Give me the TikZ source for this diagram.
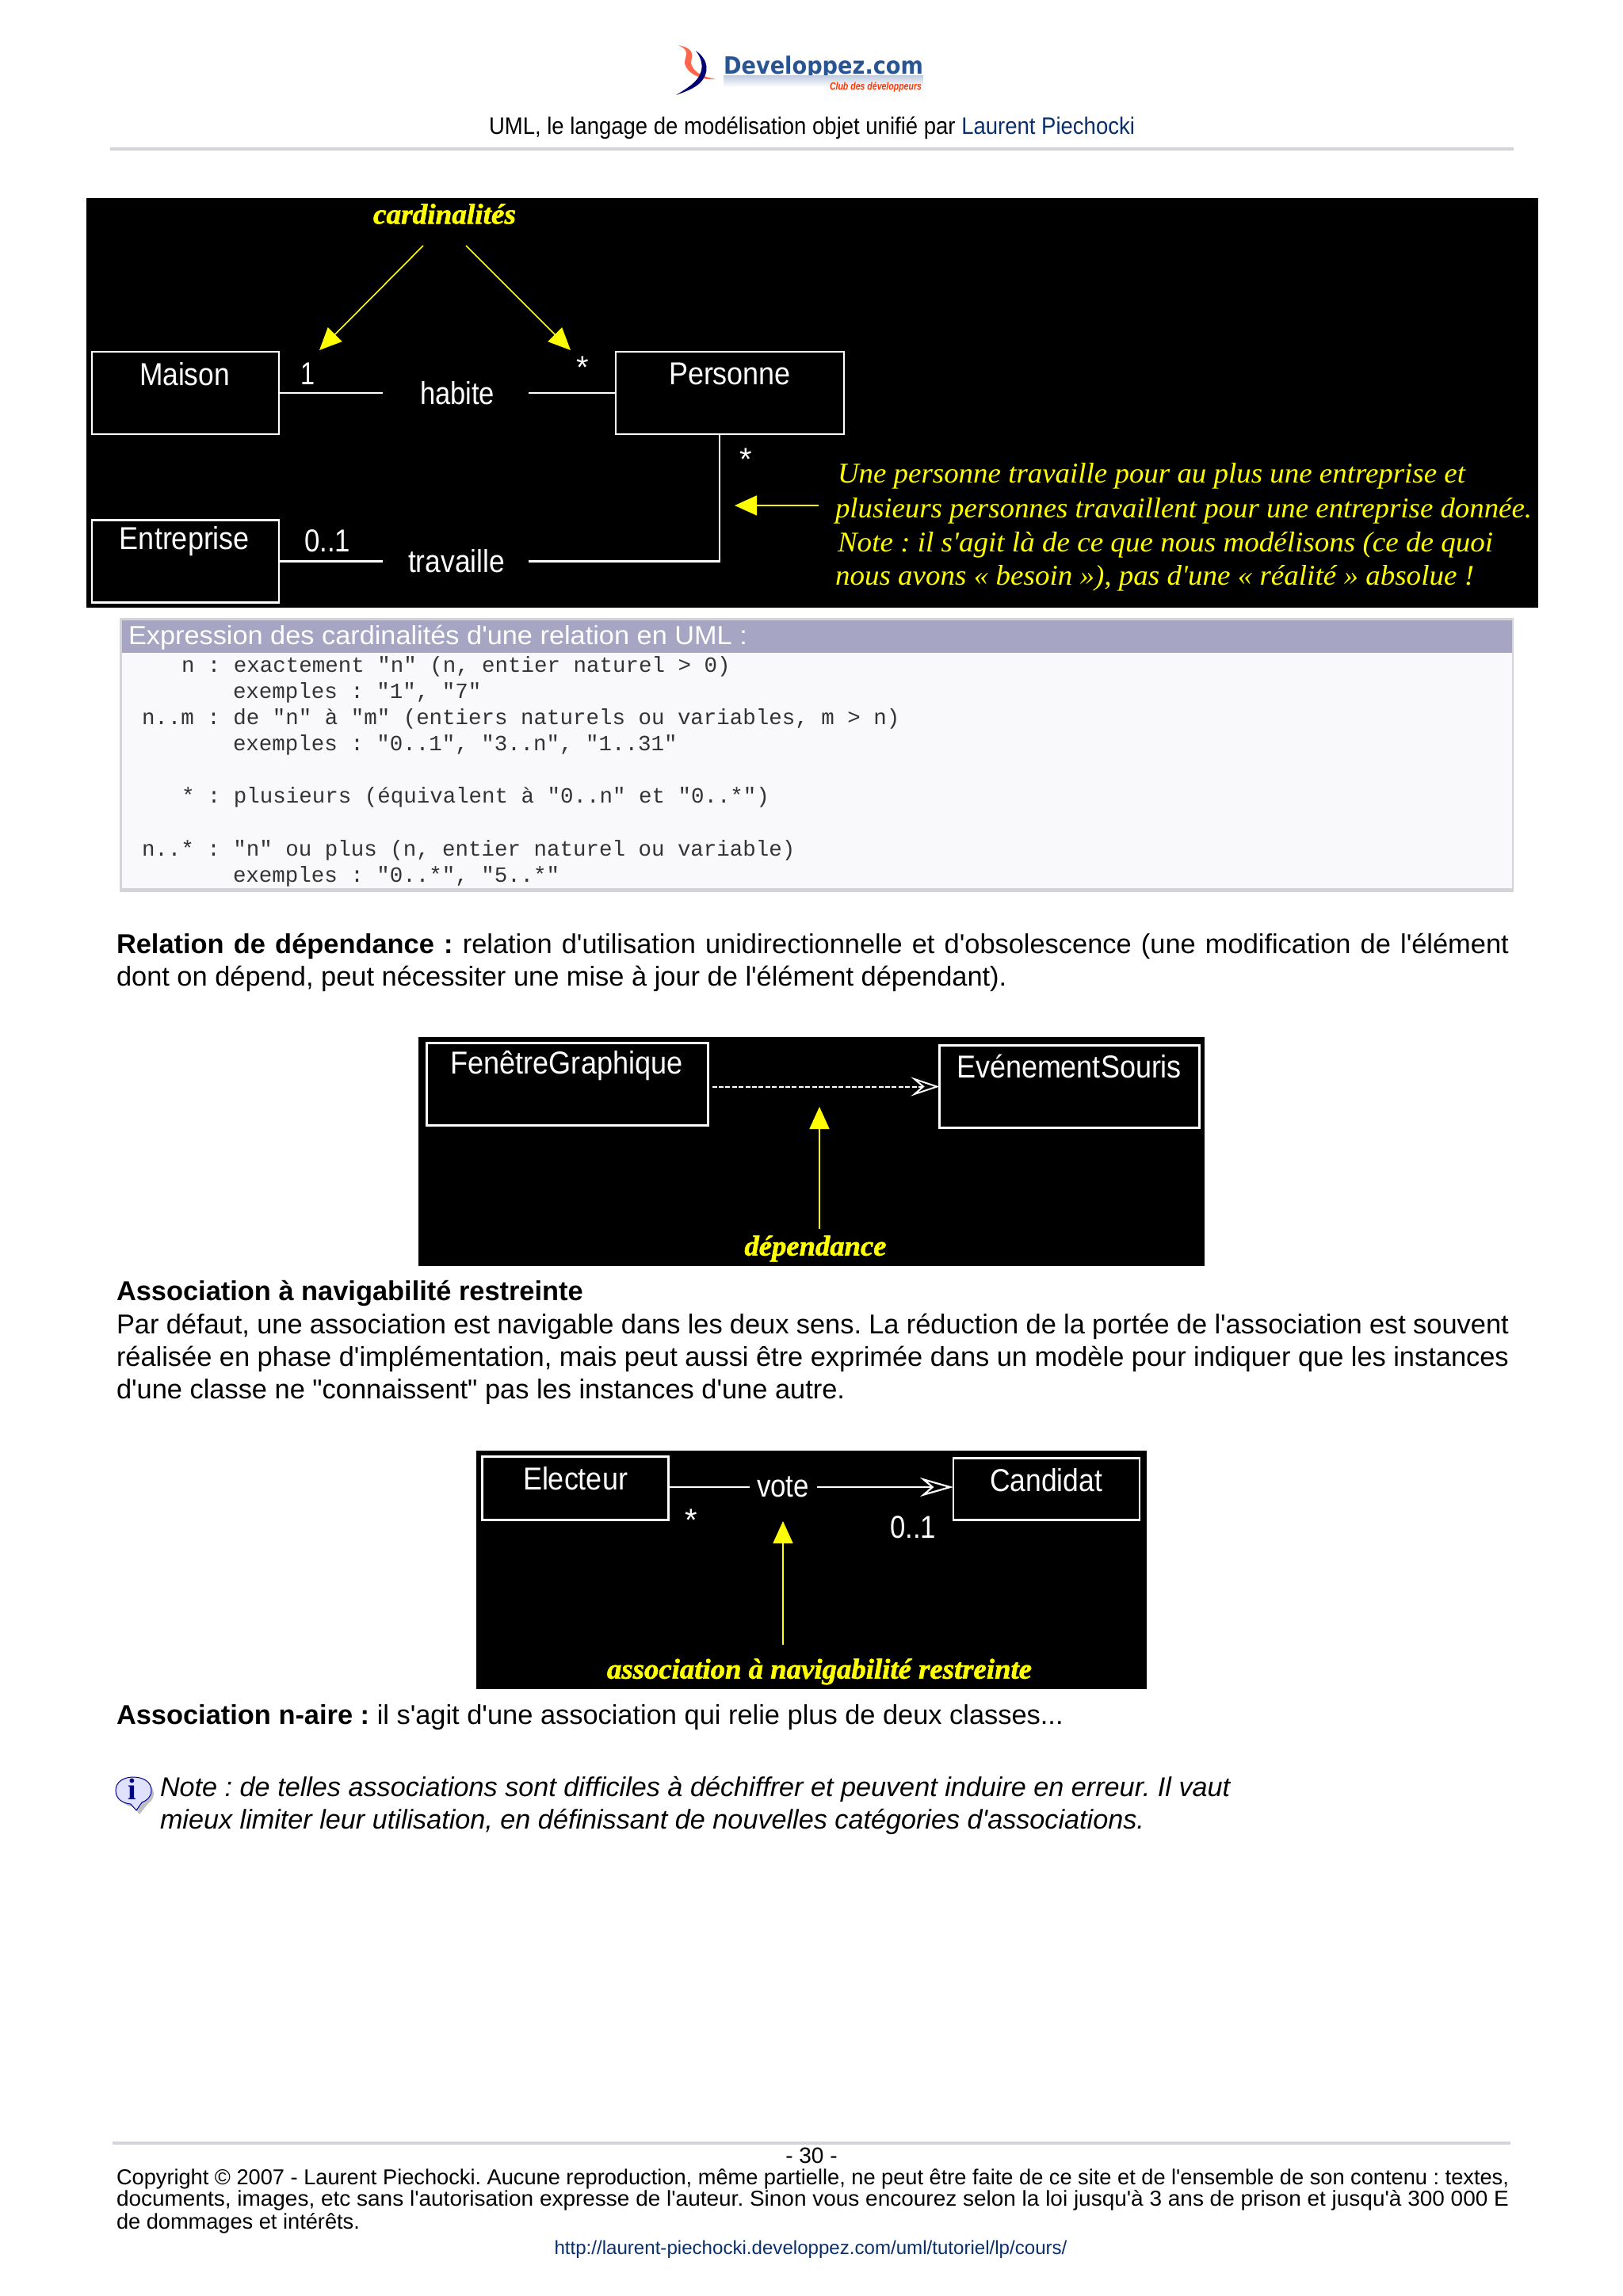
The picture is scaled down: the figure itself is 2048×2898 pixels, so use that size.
\documentclass[tikz,border=0pt]{standalone}
\usepackage{fontspec}
\usepackage{graphicx}
\usetikzlibrary{arrows.meta,calc}
\newfontfamily\arialf{Liberation Sans}
\newfontfamily\courf{Liberation Mono}
\newfontfamily\tmsf{Liberation Serif}
\newfontfamily\djvf{DejaVu Sans}
\newfontface\ygoth{Liberation Serif Bold Italic}[FakeBold=1.5]
\definecolor{rulegray}{HTML}{D3D3D9}
\definecolor{linkblue}{HTML}{0A2F6B}
\definecolor{headpurple}{HTML}{A6A5C3}
\definecolor{codebg}{HTML}{F9F9FB}
\definecolor{ylw}{HTML}{FFFF00}
\definecolor{logoblue}{HTML}{2A5595}
\frenchspacing
\newcommand{\fitw}[2]{\resizebox{#1}{\height}{#2}}
\tikzset{
  x=0.5pt,y=-0.5pt,
  every node/.style={inner sep=0pt,outer sep=0pt},
  umlbox/.style={draw=white,line width=1.3pt,fill=black,minimum width=#1},
  wt/.style={text=white,font=\fontsize{20}{20}\selectfont\arialf,anchor=center},
  yt/.style={text=ylw,font=\fontsize{18}{18}\selectfont\ygoth,anchor=center},
  nt/.style={text=ylw,font=\fontsize{18}{18}\selectfont\itshape\tmsf,anchor=base west},
  wire/.style={draw=white,line width=1.3pt},
  yarrow/.style={draw=ylw,line width=0.8pt,-{Triangle[length=14pt,width=12.5pt,fill=ylw]}},
  body/.style={font=\fontsize{17.2}{17.2}\selectfont\arialf,anchor=base west,text=black},
  foot/.style={font=\fontsize{13.6}{13.6}\selectfont\arialf,anchor=base west,text=black},
  code/.style={font=\fontsize{13.74}{13.74}\selectfont\courf,anchor=base west,text=black!80},
  grule/.style={draw=rulegray,line width=1.8pt},
  headarrow/.style={draw=white,line width=1pt,-{Stealth[length=#1,width=12pt,inset=7pt,fill=black]}},
}
\begin{document}
\begin{tikzpicture}
\useasboundingbox (0,0) rectangle (2048,2898);
\fill[white] (0,0) rectangle (2048,2898);

% --- logo
\fill[red!70!orange!70] (856,57) .. controls (880,62) and (872,72) .. (872,80) .. controls (875,92) and (888,97) .. (903,100) .. controls (885,102) and (866,92) .. (864,80) .. controls (864,70) and (872,64) .. (856,57) -- cycle;
\fill[blue!45!black] (878,64) .. controls (895,76) and (895,92) .. (884,104) .. controls (876,112) and (864,116) .. (853,120) .. controls (866,112) and (880,104) .. (884,92) .. controls (888,82) and (884,72) .. (878,64) -- cycle;
\node[anchor=base west,text=logoblue,font=\fontsize{15}{15}\selectfont\bfseries\djvf] (logotxt) at (913,93) {\fitw{126pt}{Developpez.com}};
\shade[top color=logoblue!30,bottom color=white] (913,95) rectangle (1165,110);
\node[anchor=base west,text=orange!40!red,font=\fontsize{6.5}{6.5}\selectfont\bfseries\itshape\arialf] (logoclub) at (1047,113) {\fitw{58pt}{Club des développeurs}};

% --- header
\node[foot,font=\fontsize{15}{15}\selectfont\arialf] (hdr) at (617,169) {\fitw{407.5pt}{UML, le langage de modélisation objet unifié par \textcolor{linkblue}{Laurent Piechocki}}};
\draw[grule] (139,188) -- (1910,188);

% --- diagram 1
\fill[black] (109,250) rectangle (1941,767);
\node[umlbox=118pt,minimum height=52pt] at (234,496) (maison) {};
\node[umlbox=144pt,minimum height=52pt] at (921,496) (personne) {};
\node[umlbox=118pt,minimum height=52pt] at (234,708.5) (entreprise) {};
\node[wt] (lmaison) at (233,472) {\fitw{57pt}{Maison}};
\node[wt] (lpersonne) at (921,472) {\fitw{77pt}{Personne}};
\node[wt] (lentreprise) at (233,683) {\fitw{82pt}{Entreprise}};
\node[wt,minimum width=92pt] (habite) at (575,496) {\hspace{2pt}\fitw{47pt}{habite}};
\node[wt,minimum width=92pt] (travaille) at (575,708.5) {\hspace{1pt}\fitw{61pt}{travaille}};
\node[wt] (card1) at (388,472) {\fitw{9pt}{1}};
\node[wt] (cardstar1) at (735,464) {*};
\node[wt] (cardstar2) at (941,580) {*};
\node[wt] (card01) at (413,683) {\fitw{29pt}{0..1}};
\draw[wire] (maison) -- (habite);
\draw[wire] (habite) -- (personne);
\coordinate (pbot) at (908,549);
\draw[wire] (entreprise) -- (travaille);
\draw[wire] (travaille) -| (pbot);
\node[yt] (cardinalites) at (561,270) {\fitw{90pt}{cardinalités}};
\coordinate (a1s) at (534,310);
\coordinate (a1t) at (403,442);
\coordinate (a2s) at (588,310);
\coordinate (a2t) at (720,442);
\coordinate (a3s) at (1033,638);
\coordinate (a3t) at (927,638);
\draw[yarrow] (a1s) -- (a1t);
\draw[yarrow] (a2s) -- (a2t);
\draw[yarrow] (a3s) -- (a3t);
\node[nt] (n1) at (1057,609) {\fitw{396pt}{Une personne travaille pour au plus une entreprise et}};
\node[nt] (n2) at (1054,653) {\fitw{439.5pt}{plusieurs personnes travaillent pour une entreprise donnée.}};
\node[nt] (n3) at (1057,696) {\fitw{413.5pt}{Note : il s'agit là de ce que nous modélisons (ce de quoi}};
\node[nt] (n4) at (1054,738) {\fitw{403pt}{nous avons « besoin »), pas d'une « réalité » absolue !}};

% --- code box
\fill[rulegray] (151,780) rectangle (1910,1126);
\fill[codebg] (154,783) rectangle (1908,1121);
\fill[headpurple] (154,783) rectangle (1908,824);
\node[body,text=white,font=\fontsize{16.5}{16.5}\selectfont\arialf] (chead) at (162,813) {\fitw{390.5pt}{Expression des cardinalités d'une relation en UML :}};
\node[code] (c1) at (229,848) {n : exactement "n" (n, entier naturel > 0)};
\node[code] (c2) at (294,881) {exemples : "1", "7"};
\node[code] (c3) at (179,914) {n..m : de "n" à "m" (entiers naturels ou variables, m > n)};
\node[code] (c4) at (294,947) {exemples : "0..1", "3..n", "1..31"};
\node[code] (c5) at (229,1013) {* : plusieurs (équivalent à "0..n" et "0..*")};
\node[code] (c6) at (179,1080) {n..* : "n" ou plus (n, entier naturel ou variable)};
\node[code] (c7) at (294,1113) {exemples : "0..*", "5..*"};

% --- relation de dependance
\node[body] (p1a) at (147,1203) {\makebox[878.5pt][s]{\textbf{Relation de dépendance :} relation d'utilisation unidirectionnelle et d'obsolescence (une modification de l'élément}};
\node[body] (p1b) at (147,1244) {dont on dépend, peut nécessiter une mise à jour de l'élément dépendant).};

% --- diagram 2
\fill[black] (528,1309) rectangle (1520,1598);
\node[umlbox=177.5pt,minimum height=52pt] at (716,1368.5) (fen) {};
\node[umlbox=164pt,minimum height=52pt] at (1349.5,1371.5) (even) {};
\node[wt] (lfen) at (715,1345) {\fitw{146.5pt}{FenêtreGraphique}};
\node[wt] (leven) at (1349,1346) {\fitw{142pt}{EvénementSouris}};
\draw[headarrow=18pt,dash pattern=on 3pt off 1.2pt,shorten <=2.5pt] (fen.east |- even.west) -- (even.west);
\coordinate (d1s) at (1034,1551);
\coordinate (d1t) at (1034,1397);
\draw[yarrow] (d1s) -- (d1t);
\node[yt] (ldep) at (1029,1576) {\fitw{89.5pt}{dépendance}};

% --- association text
\node[body] (p2a) at (147,1641) {\textbf{Association à navigabilité restreinte}};
\node[body] (p2b) at (147,1683) {\makebox[878.5pt][s]{Par défaut, une association est navigable dans les deux sens. La réduction de la portée de l'association est souvent}};
\node[body] (p2c) at (147,1724) {\makebox[878.5pt][s]{réalisée en phase d'implémentation, mais peut aussi être exprimée dans un modèle pour indiquer que les instances}};
\node[body] (p2d) at (147,1765) {d'une classe ne "connaissent" pas les instances d'une autre.};

% --- diagram 3
\fill[black] (601,1831) rectangle (1447,2132);
\node[umlbox=117.5pt,minimum height=40pt] at (726,1878.5) (elect) {};
\node[umlbox=117.5pt,minimum height=39pt] at (1320.5,1879.5) (cand) {};
\node[wt] (lelect) at (726,1866) {\fitw{66pt}{Electeur}};
\node[wt] (lcand) at (1320,1868) {\fitw{71pt}{Candidat}};
\node[wt,minimum width=42.5pt] (vote) at (988,1877) {\fitw{33pt}{vote}};
\draw[wire] (elect.east |- vote.west) -- (vote.west);
\draw[headarrow=21pt,line width=1.1pt] (vote.east) -- (cand.west |- vote.east);
\node[wt] (s1) at (872,1919) {*};
\node[wt] (s2) at (1152,1928) {\fitw{29pt}{0..1}};
\coordinate (v1s) at (988,2076);
\coordinate (v1t) at (988,1920);
\draw[yarrow] (v1s) -- (v1t);
\node[yt] (lass) at (1034,2110) {\fitw{268pt}{association à navigabilité restreinte}};

% --- n-aire and note
\node[body] (p3) at (147,2176) {\textbf{Association n-aire :} il s'agit d'une association qui relie plus de deux classes...};
\fill[black!25] (172,2264) ellipse [x radius=22,y radius=17];
\fill[black!25] (176,2290) -- (165,2275) -- (188,2275) -- cycle;
\path[fill=blue!12,draw=blue!55!black,line width=0.5pt] (146,2260) .. controls (146,2249) and (156,2243) .. (168,2243) .. controls (181,2243) and (191,2249) .. (191,2260) .. controls (191,2268) and (185,2273) .. (179,2275) -- (172,2285) -- (165,2277) .. controls (154,2276) and (146,2270) .. (146,2260) -- cycle;
\node[anchor=center,text=blue!50!black,font=\fontsize{19}{19}\selectfont\bfseries\tmsf] (info) at (167,2258) {i};
\node[body,font=\fontsize{17.1}{17.1}\selectfont\itshape\arialf] (n5) at (202,2267) {Note : de telles associations sont difficiles à déchiffrer et peuvent induire en erreur. Il vaut};
\node[body,font=\fontsize{17.1}{17.1}\selectfont\itshape\arialf] (n6) at (202,2308) {mieux limiter leur utilisation, en définissant de nouvelles catégories d'associations.};

% --- footer
\draw[grule] (142,2705) -- (1906,2705);
\node[foot,anchor=center,font=\fontsize{14}{14}\selectfont\arialf] (pg) at (1024,2721) {- 30 -};
\node[foot] (f1) at (147,2757) {\fitw{878.5pt}{Copyright © 2007 - Laurent Piechocki. Aucune reproduction, même partielle, ne peut être faite de ce site et de l'ensemble de son contenu : textes,}};
\node[foot] (f2) at (147,2784) {\fitw{878.5pt}{documents, images, etc sans l'autorisation expresse de l'auteur. Sinon vous encourez selon la loi jusqu'à 3 ans de prison et jusqu'à 300 000 E}};
\node[foot] (f3) at (147,2813) {de dommages et intérêts.};
\node[foot,anchor=base,text=linkblue,font=\fontsize{12.05}{12.05}\selectfont\arialf] (url) at (1023,2845) {http://laurent-piechocki.developpez.com/uml/tutoriel/lp/cours/};
\end{tikzpicture}
\end{document}
